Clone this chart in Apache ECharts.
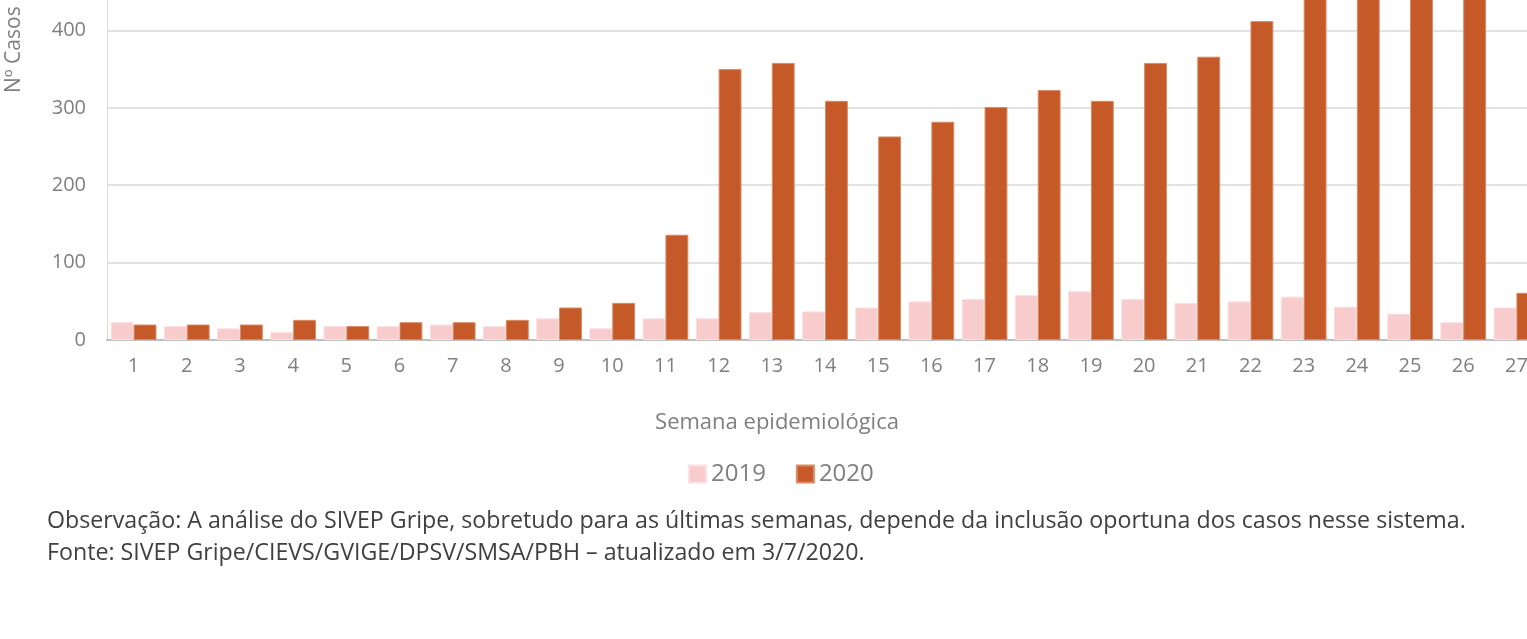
<!DOCTYPE html>
<html>
<head>
<meta charset="utf-8">
<script src="https://cdn.jsdelivr.net/npm/echarts@6/dist/echarts.min.js"></script>
<style>
  html, body { margin: 0; padding: 0; background: #fff; }
  #chart { width: 1527px; height: 639px; }
</style>
</head>
<body>
<div id="chart"></div>
<script>
// Semanas epidemiológicas e casos por ano
const weeks = ['1','2','3','4','5','6','7','8','9','10','11','12','13','14','15','16','17','18','19','20','21','22','23','24','25','26','27'];
const cases2019 = [23, 18, 15, 10, 18, 18, 20, 18, 28, 15, 28, 28, 36, 37, 42, 50, 53, 58, 63, 53, 48, 50, 56, 43, 34, 23, 42];
const cases2020 = [20, 20, 20, 26, 18, 23, 23, 26, 42, 48, 136, 350, 358, 309, 263, 282, 301, 323, 309, 358, 366, 412, 470, 490, 485, 475, 61];
const yTicks = [0, 100, 200, 300, 400, 500];

const FONT = '"Open Sans", sans-serif';
const GRAY = '#7f7f7f';

const chart = echarts.init(document.getElementById('chart'));

const option = {
  animation: false,
  backgroundColor: '#fff',
  grid: {
    left: 107,
    right: -16,
    top: -47,
    bottom: 299,
    outerBoundsMode: 'none'
  },
  legend: {
    data: ['2019', '2020'],
    left: 683,
    top: 457,
    icon: 'rect',
    itemWidth: 17,
    itemHeight: 17,
    itemGap: 30,
    textStyle: { color: GRAY, fontSize: 24, fontFamily: FONT }
  },
  xAxis: {
    type: 'category',
    data: weeks,
    axisTick: { show: false },
    axisLine: { lineStyle: { color: '#bfbfbf', width: 2 } },
    axisLabel: { color: GRAY, fontSize: 20, fontFamily: FONT, margin: 16 }
  },
  yAxis: {
    type: 'value',
    min: yTicks[0],
    max: yTicks[yTicks.length - 1],
    interval: 100,
    axisLine: { show: true, lineStyle: { color: '#d9d9d9', width: 1 } },
    axisTick: { show: false },
    axisLabel: { color: GRAY, fontSize: 20, fontFamily: FONT, margin: 21 },
    splitLine: { lineStyle: { color: '#d9d9d9', width: 1.5 } }
  },
  graphic: [
    {
      type: 'text',
      x: 14,
      y: 93,
      rotation: Math.PI / 2,
      style: {
        text: 'Nº Casos',
        fill: GRAY,
        font: '21px ' + FONT,
        textAlign: 'left',
        textVerticalAlign: 'middle'
      }
    },
    {
      type: 'text',
      x: 777,
      y: 423,
      style: {
        text: 'Semana epidemiológica',
        fill: GRAY,
        font: '22px ' + FONT,
        textAlign: 'center',
        textVerticalAlign: 'middle'
      }
    },
    {
      type: 'text',
      x: 47,
      y: 521,
      style: {
        text: 'Observação: A análise do SIVEP Gripe, sobretudo para as últimas semanas, depende da inclusão oportuna dos casos nesse sistema.',
        fill: '#404040',
        font: '23.2px ' + FONT,
        textAlign: 'left',
        textVerticalAlign: 'middle'
      }
    },
    {
      type: 'text',
      x: 47,
      y: 553,
      style: {
        text: 'Fonte: SIVEP Gripe/CIEVS/GVIGE/DPSV/SMSA/PBH – atualizado em 3/7/2020.',
        fill: '#404040',
        font: '23.2px ' + FONT,
        textAlign: 'left',
        textVerticalAlign: 'middle'
      }
    }
  ],
  series: [
    {
      name: '2019',
      type: 'bar',
      data: cases2019,
      barGap: '0%',
      barCategoryGap: '14%',
      itemStyle: { color: '#f8cbcd', borderColor: '#fbe0e1', borderWidth: 1 }
    },
    {
      name: '2020',
      type: 'bar',
      data: cases2020,
      barGap: '0%',
      barCategoryGap: '14%',
      itemStyle: { color: '#c55a28', borderColor: '#d98a66', borderWidth: 1 }
    }
  ]
};

chart.setOption(option);
</script>
</body>
</html>
